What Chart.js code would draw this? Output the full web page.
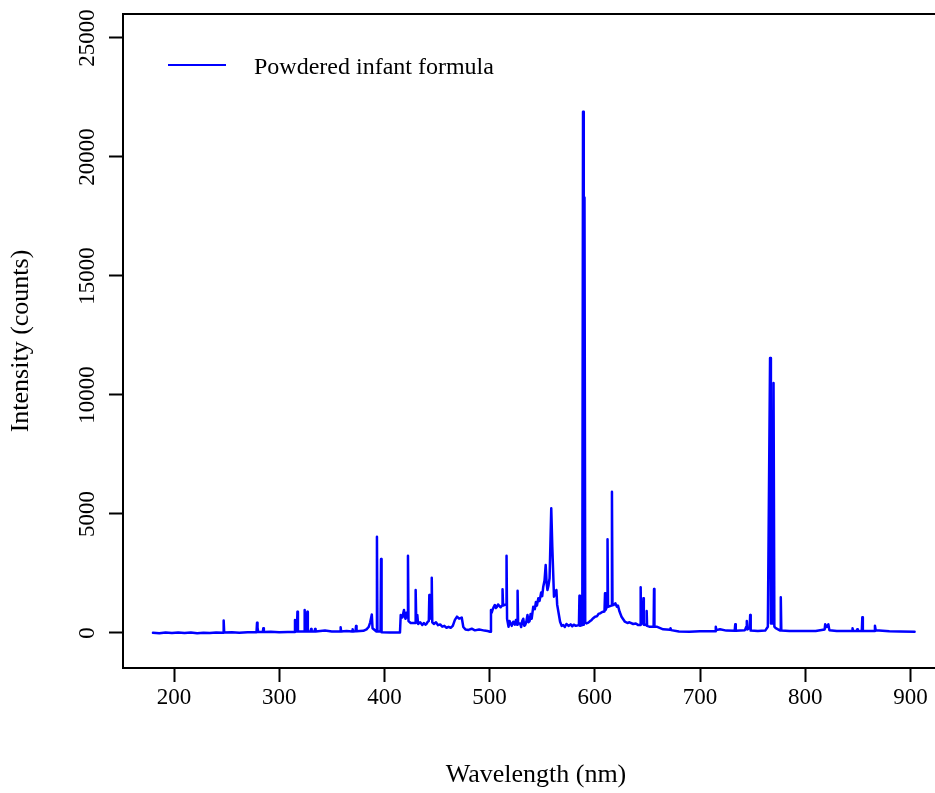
<!DOCTYPE html>
<html>
<head>
<meta charset="utf-8">
<title>Powdered infant formula spectrum</title>
<script src="https://cdn.jsdelivr.net/npm/chart.js@4.4.0/dist/chart.umd.min.js"></script>
<style>
  html, body { margin: 0; padding: 0; background: #fff; overflow: hidden; }
  #wrap { width: 935px; height: 793px; overflow: hidden; }
</style>
</head>
<body>
<div id="wrap"><canvas id="spectrum" width="950" height="793"></canvas></div>
<script>
const seriesLabel = 'Powdered infant formula';

// wavelength (nm)
const wavelength = [
  180, 186, 192, 198, 204, 210, 216, 222, 228, 234,
  240, 246.7, 247.2, 247.7, 255, 262, 270, 278.4, 278.9, 279.4,
  280, 284.4, 284.9, 285.4, 292, 300, 308, 314.5, 315, 315.6,
  316.8, 317.3, 317.8, 323.7, 324.2, 324.7, 326.2, 326.7, 327.2, 329.8,
  330.3, 330.8, 333.6, 334.1, 334.6, 343.5, 350, 357.9, 358.4, 358.9,
  364, 369.3, 369.8, 370.3, 372.5, 373, 373.5, 380, 383, 385,
  386.5, 388, 388.7, 392.4, 392.9, 393.4, 396.3, 396.8, 397.3, 405,
  414.8, 415.5, 417, 418.6, 419.3, 420, 420.8, 421.3, 421.9, 422.4,
  422.9, 425, 429.2, 429.7, 430.2, 431.3, 432, 434, 436, 437.5,
  439, 440, 441, 442.2, 442.7, 443.3, 444.6, 445, 445.5, 447,
  449, 451, 453, 455, 457, 459, 461, 463, 465, 467,
  469, 471, 473.5, 475, 477, 480, 483, 486, 490, 493,
  495, 498, 500.4, 501.3, 502, 503, 504, 505, 506, 507,
  508, 509, 510.5, 511.8, 512.3, 512.8, 515.6, 516.1, 516.6, 518,
  519, 520, 521, 522.5, 524, 525, 526.1, 526.6, 527.1, 529,
  530, 531, 532, 533, 534, 535, 536, 537, 538, 539,
  540, 541.5, 543, 544, 545, 546.3, 547.5, 549, 550, 551,
  552.2, 553.3, 554.2, 555, 556, 557, 558.6, 559.6, 561.2, 563.5,
  564.2, 567, 568.5, 570, 571.5, 573, 575, 577, 578.5, 580,
  582, 584.9, 585.4, 585.9, 588.1, 588.8, 589.5, 590.2, 590.9, 592,
  593.8, 595, 597, 598.5, 600.2, 602, 603.5, 605, 607, 609.2,
  609.7, 610.2, 611.6, 612.1, 612.6, 615.8, 616.3, 616.8, 618, 619.5,
  621, 622, 623.5, 625.4, 628.6, 631, 633, 636.5, 639, 641,
  643.2, 643.6, 644, 645.8, 646.2, 646.6, 648.9, 649.3, 649.7, 651.8,
  655.9, 656.3, 656.7, 658.8, 665, 671.5, 672, 672.5, 680, 690,
  700, 714.5, 715, 715.5, 719, 725, 733, 733.5, 734, 742.7,
  744, 744.5, 745, 747.2, 747.7, 748.2, 755, 762, 764.5, 766.6,
  767.4, 769, 769.9, 770.7, 772, 776.3, 776.8, 777.3, 785, 800,
  810, 818.5, 819, 820.5, 822, 823, 830, 844.5, 845, 845.5,
  849, 849.5, 850, 853.8, 854.3, 854.8, 865.8, 866.3, 867, 880,
  890, 904
];

// intensity (counts), same order as wavelength
const intensity = [
  10, -15, 20, -5, 25, 0, 20, -10, 15, 0,
  20, 15, 520, 20, 30, 10, 35, 30, 430, 220,
  40, 40, 200, 40, 50, 35, 45, 40, 546, 60,
  60, 895, 60, 60, 966, 60, 60, 895, 60, 60,
  170, 60, 60, 170, 60, 100, 60, 60, 240, 60,
  80, 60, 155, 60, 70, 290, 70, 90, 150, 250,
  450, 780, 200, 60, 4046, 60, 60, 3109, 30, 20,
  20, 756, 650, 966, 700, 600, 850, 650, 700, 3250,
  500, 420, 420, 1807, 700, 756, 380, 450, 336, 420,
  350, 380, 460, 500, 1597, 600, 800, 2325, 450, 380,
  450, 330, 360, 265, 300, 220, 260, 220, 300, 550,
  685, 600, 650, 250, 150, 130, 180, 110, 150, 120,
  100, 80, 55, 966, 850, 1000, 1100, 1176, 1050, 1100,
  1200, 1150, 1080, 1150, 1836, 1150, 1200, 3250, 600, 265,
  500, 400, 300, 475, 350, 550, 350, 1777, 400, 400,
  250, 500, 600, 300, 350, 500, 756, 450, 500, 800,
  600, 1105, 1000, 1300, 1150, 1458, 1350, 1700, 1550, 1946,
  2200, 2857, 2100, 1807, 2000, 2300, 5239, 3627, 1526, 1807,
  1200, 475, 300, 336, 250, 380, 300, 360, 280, 350,
  300, 336, 1569, 300, 330, 21900, 350, 18300, 450, 400,
  433, 480, 550, 620, 685, 700, 800, 827, 880, 900,
  1668, 966, 1100, 3937, 1105, 1150, 5937, 1248, 1176, 1250,
  1100, 1150, 900, 685, 475, 420, 450, 378, 400, 340,
  336, 1920, 400, 400, 1458, 350, 330, 924, 300, 265,
  260, 1849, 260, 265, 155, 140, 200, 120, 60, 55,
  70, 70, 265, 120, 155, 100, 97, 365, 90, 120,
  265, 504, 150, 200, 756, 100, 84, 100, 265, 11550,
  400, 400, 10500, 265, 200, 100, 1500, 100, 84, 80,
  84, 150, 365, 250, 365, 120, 84, 84, 200, 84,
  84, 155, 84, 84, 658, 84, 84, 308, 120, 70,
  60, 55
];

const xTicks = [200, 300, 400, 500, 600, 700, 800, 900];
const yTicks = [0, 5000, 10000, 15000, 20000, 25000];

const serif = '"Liberation Serif", "Times New Roman", serif';

// box top edge, rotated y labels (R style) and the in-plot legend
const spectrumDecor = {
  id: 'spectrumDecor',
  afterDraw(chart) {
    const { ctx, chartArea, scales } = chart;
    ctx.save();
    ctx.strokeStyle = '#000';
    ctx.lineWidth = 2;
    ctx.beginPath();
    ctx.moveTo(chartArea.left - 1, chartArea.top);
    ctx.lineTo(chartArea.right + 1, chartArea.top);
    ctx.stroke();

    ctx.fillStyle = '#000';
    ctx.font = '23px ' + serif;
    ctx.textAlign = 'center';
    ctx.textBaseline = 'middle';
    scales.y.ticks.forEach(t => {
      const py = scales.y.getPixelForValue(t.value);
      ctx.save();
      ctx.translate(chartArea.left - 35.5, py);
      ctx.rotate(-Math.PI / 2);
      ctx.fillText(String(t.value), 0, 0);
      ctx.restore();
    });

    const ds = chart.data.datasets[0];
    ctx.strokeStyle = ds.borderColor;
    ctx.lineWidth = 2;
    ctx.beginPath();
    ctx.moveTo(chartArea.left + 45, 65);
    ctx.lineTo(chartArea.left + 103, 65);
    ctx.stroke();
    ctx.font = '24px ' + serif;
    ctx.textAlign = 'left';
    ctx.textBaseline = 'alphabetic';
    ctx.fillText(ds.label, chartArea.left + 131, 74);
    ctx.restore();
  }
};

const points = wavelength.map((w, i) => ({ x: w, y: intensity[i] }));

new Chart(document.getElementById('spectrum').getContext('2d'), {
  type: 'line',
  data: {
    datasets: [{
      label: seriesLabel,
      data: points,
      borderColor: '#0000ff',
      backgroundColor: '#0000ff',
      borderWidth: 2.5,
      borderJoinStyle: 'round',
      borderCapStyle: 'round',
      pointRadius: 0,
      tension: 0,
      fill: false
    }]
  },
  options: {
    responsive: false,
    animation: false,
    events: [],
    layout: { padding: { top: 14, right: 1, bottom: 0, left: 0 } },
    plugins: {
      legend: { display: false },
      tooltip: { enabled: false }
    },
    scales: {
      x: {
        type: 'linear',
        min: 151.5,
        max: 936.7,
        afterBuildTicks: scale => { scale.ticks = xTicks.map(v => ({ value: v })); },
        afterFit: scale => { scale.height = 125; },
        border: { display: true, color: '#000', width: 2 },
        grid: { display: true, drawOnChartArea: false, drawTicks: true, tickLength: 14, tickWidth: 2, tickColor: '#000' },
        ticks: {
          color: '#000',
          font: { family: serif, size: 23 },
          padding: 2,
          maxRotation: 0,
          autoSkip: false,
          callback: v => String(v)
        },
        title: {
          display: true,
          text: 'Wavelength (nm)',
          color: '#000',
          font: { family: serif, size: 26 },
          padding: { top: 0, bottom: 2 }
        }
      },
      y: {
        type: 'linear',
        min: -1471,
        max: 26008,
        afterBuildTicks: scale => { scale.ticks = yTicks.map(v => ({ value: v })); },
        afterFit: scale => { scale.width = 123; },
        border: { display: true, color: '#000', width: 2 },
        grid: { display: true, drawOnChartArea: false, drawTicks: true, tickLength: 14, tickWidth: 2, tickColor: '#000' },
        ticks: { display: false },
        title: {
          display: true,
          text: 'Intensity (counts)',
          color: '#000',
          font: { family: serif, size: 26 },
          padding: { top: 6, bottom: 0 }
        }
      }
    }
  },
  plugins: [spectrumDecor]
});
</script>
</body>
</html>
